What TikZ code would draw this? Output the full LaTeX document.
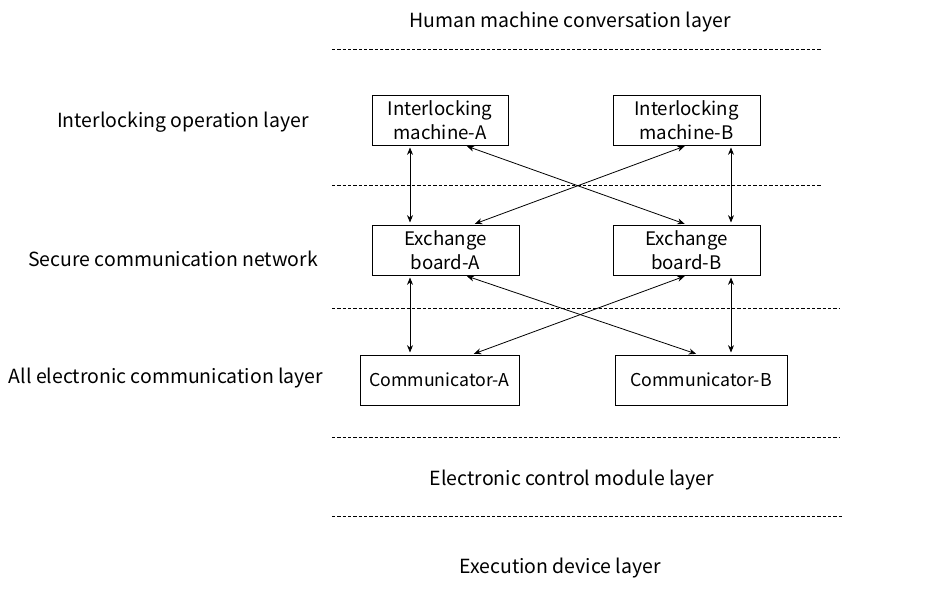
\documentclass[tikz,border=0pt]{standalone}
\usepackage{fontspec}
\setmainfont{Noto Sans CJK SC}
\usepackage{tikz}
\usetikzlibrary{arrows.meta,calc,positioning}
\tikzstyle{link} = [{Stealth[length=5.5pt,width=4.5pt]}-{Stealth[length=5.5pt,width=4.5pt]},line width=0.6pt,shorten <=1.5pt,shorten >=1.5pt]
\tikzstyle{unit} = [rectangle, draw, line width=0.75pt, inner sep=0pt, align=center, minimum height=37.5pt, font=\fontsize{14}{18}\selectfont]
\tikzstyle{layer} = [font=\fontsize{14.6}{16}\selectfont]
\tikzstyle{split} = [line width=0.6pt, dash pattern=on 2.4pt off 1.6pt]

\begin{document}
\begin{tikzpicture}[x=0.75pt,y=-0.75pt]
\useasboundingbox (0,0) rectangle (938,592);
% Layers
\node (hmc) [layer] at (570,22) {Human machine conversation layer};
\node (iol) [layer] at (183,122) {Interlocking operation layer};
\node (scn) [layer] at (173,259) {Secure communication network};
\node (aec) [layer] at (166,378) {All electronic communication layer};
\node (ecm) [layer] at (572,480) {Electronic control module layer};
\node (exd) [layer] at (560,568) {Execution device layer};

% Separators
\draw[split] (332,49) -- (822,49);
\draw[split] (332,185) -- (822,185);
\draw[split] (332,308) -- (840,308);
\draw[split] (332,437) -- (840,437);
\draw[split] (332,516) -- (842,516);

% Units
\node (ima) [unit, minimum width=102pt] at (440,120) {Interlocking\\machine-A};
\node (imb) [unit, minimum width=110.25pt] at (686.5,120) {Interlocking\\machine-B};
\node (eba) [unit, minimum width=110.25pt] at (445.5,250) {Exchange\\board-A};
\node (ebb) [unit, minimum width=110.25pt] at (686.5,250) {Exchange\\board-B};
\node (coma) [unit, minimum width=119.25pt, font=\fontsize{13.3}{15}\selectfont] at (439.5,380) {Communicator-A};
\node (comb) [unit, minimum width=129pt, font=\fontsize{13.3}{15}\selectfont] at (701,380) {Communicator-B};

% Connections
\coordinate (ima-v) at ($(ima.south)+(-30,0)$);
\coordinate (imb-v) at ($(imb.south)+(44.5,0)$);
\coordinate (ima-x) at ($(ima.south)+(25,0)$);
\coordinate (eba-x) at ($(eba.north)+(27.5,0)$);
\coordinate (eba-v) at ($(eba.south)+(-35.5,0)$);
\coordinate (ebb-v) at ($(ebb.south)+(44.5,0)$);
\coordinate (eba-y) at ($(eba.south)+(19.5,0)$);
\coordinate (coma-y) at ($(coma.north)+(32.5,0)$);
\coordinate (comb-y) at ($(comb.north)+(-3,0)$);
\draw[link] (ima-v) -- (ima-v |- eba.north);
\draw[link] (imb-v) -- (imb-v |- ebb.north);
\draw[link] (ima-x) -- (ebb.north);
\draw[link] (imb.south) -- (eba-x);
\draw[link] (eba-v) -- (eba-v |- coma.north);
\draw[link] (ebb-v) -- (ebb-v |- comb.north);
\draw[link] (eba-y) -- (comb-y);
\draw[link] (ebb.south) -- (coma-y);
\end{tikzpicture}
\end{document}
